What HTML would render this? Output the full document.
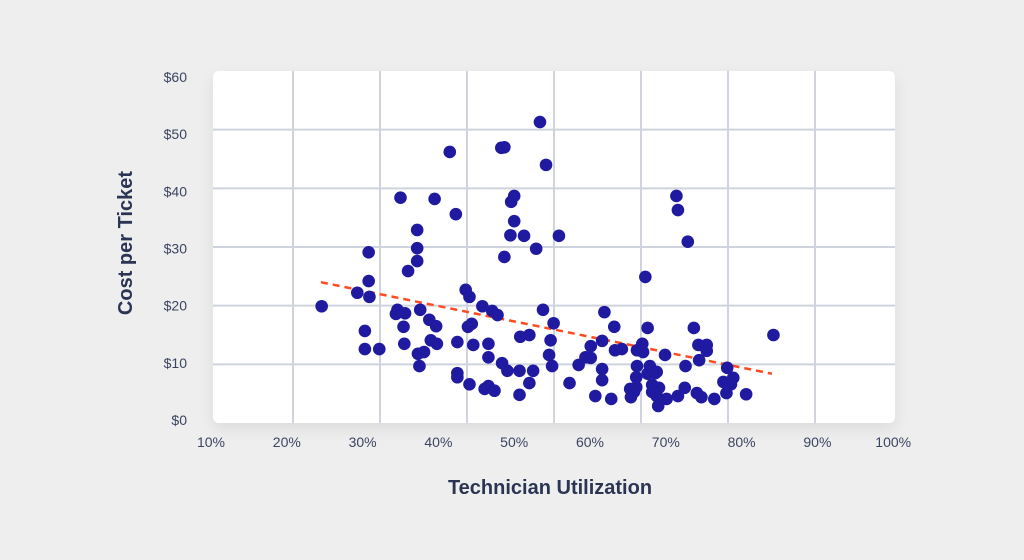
<!DOCTYPE html>
<html><head><meta charset="utf-8"><style>
html,body{margin:0;padding:0;background:#eeeeee;}
body{width:1024px;height:555px;overflow:hidden;font-family:"Liberation Sans",sans-serif;}
</style></head><body>
<svg id="chart" width="1024" height="555" viewBox="0 0 1024 555">
<defs><filter id="sh" x="-10%" y="-10%" width="120%" height="130%"><feDropShadow dx="0" dy="6" stdDeviation="7" flood-color="#000" flood-opacity="0.08"/></filter></defs>
<rect x="0" y="0" width="1024" height="555" fill="#eeeeee"/>
<rect x="213" y="71" width="682" height="352" rx="6" fill="#ffffff" filter="url(#sh)"/>
<g id="grid"></g>
<g id="yticks"></g>
<g id="xticks"></g>
<g id="trend"></g>
<g id="points"></g>
<text x="550" y="494" text-anchor="middle" font-size="20" font-weight="bold" fill="#2b3553">Technician Utilization</text>
<text transform="translate(132,243) rotate(-90)" text-anchor="middle" font-size="20" font-weight="bold" fill="#2b3553">Cost per Ticket</text>
</svg>
<script>
const utilization=[24.6,29.3,30.8,30.8,30.9,30.3,30.3,32.2,35.0,34.6,34.4,35.6,35.4,35.5,36.0,37.2,37.2,37.2,37.6,37.3,37.5,38.1,38.8,39.0,39.7,39.8,39.5,41.5,42.3,42.5,42.5,42.5,43.6,44.1,43.9,44.4,44.6,44.1,45.8,46.6,46.6,47.1,47.8,46.1,46.6,47.4,48.3,48.7,48.7,48.4,49.1,49.6,50.0,50.0,49.5,51.3,50.7,50.8,52.0,50.7,52.0,52.5,52.9,53.4,53.8,54.2,55.9,55.2,54.8,54.6,55.0,57.3,58.5,59.4,60.1,60.1,61.9,61.6,61.6,61.6,60.7,63.2,62.8,63.3,64.2,65.3,65.8,65.4,66.1,66.2,66.9,66.2,66.1,67.3,67.6,67.6,68.2,68.2,68.8,69.1,68.8,70.1,69.0,69.9,71.6,72.6,73.7,74.3,75.4,75.4,74.4,74.1,76.4,78.1,78.9,78.6,77.6,78.0,80.6,84.2,71.4,71.6,72.9,72.5,74.7,68.6,67.0,67.9];
const cost=[19.9,22.2,29.1,24.2,21.5,15.7,12.6,12.6,38.4,19.3,18.6,18.7,16.4,13.5,25.9,27.6,29.8,32.9,19.3,11.8,9.7,12.1,17.6,14.1,16.5,13.5,38.2,46.2,35.6,8.5,7.8,13.8,22.7,21.5,16.4,16.9,13.3,6.6,19.9,13.5,11.2,19.1,18.4,5.8,6.3,5.5,46.9,47.0,28.3,10.2,8.9,37.7,38.7,34.4,32.0,31.9,8.9,14.7,15.0,4.8,6.8,8.9,29.7,51.3,19.3,44.0,31.9,17.0,14.1,11.6,9.7,6.8,9.9,11.2,11.1,13.1,18.9,14.0,9.2,7.3,4.6,16.4,4.1,12.4,12.6,5.8,5.3,4.4,6.1,12.4,13.5,9.7,7.8,24.9,16.2,8.4,6.5,5.3,4.6,6.0,8.7,4.1,2.9,11.6,4.6,9.7,16.2,13.3,13.3,12.3,10.7,5.1,4.1,9.4,7.7,6.6,7.0,5.1,4.9,15.0,38.7,36.3,30.9,6.0,4.4,8.5,12.1,9.7];
const xTickLabels=["10%","20%","30%","40%","50%","60%","70%","80%","90%","100%"];
const xTickValues=[10,20,30,40,50,60,70,80,90,100];
const yTickLabels=["$0","$10","$20","$30","$40","$50","$60"];
const yTickValues=[0,10,20,30,40,50,60];
const trendX=[24.5,84.0];
const trendY=[24.0,8.4];

const NS="http://www.w3.org/2000/svg";
function xs(p){return 211+(p-10)*75.8/10;}
function ys(v){return 423-(v)*352/60;}
function ylab(v){return 420-(v)*343/60;}
function mk(t,a,parent){const e=document.createElementNS(NS,t);for(const k in a)e.setAttribute(k,a[k]);parent.appendChild(e);return e;}
const grid=document.getElementById('grid');
for(let i=0;i<7;i++){
  const gx=293+i*87;
  const l=mk('line',{x1:gx,x2:gx,y1:71,y2:423,stroke:'#cfd3dd','stroke-width':2},grid);
  
  
}
yTickValues.forEach((v,i)=>{
  if(v>0&&v<60){
    const l=mk('line',{x1:213,x2:895,y1:ys(v),y2:ys(v),stroke:'#cfd3dd','stroke-width':2},grid);
    
    
  }
  const t=mk('text',{x:187,y:ylab(v)+5,'text-anchor':'end','font-size':14,fill:'#3b4460'},document.getElementById('yticks'));
  t.textContent=yTickLabels[i];
  
  
});
xTickValues.forEach((v,i)=>{
  const t=mk('text',{x:xs(v),y:447,'text-anchor':'middle','font-size':14,fill:'#3b4460'},document.getElementById('xticks'));
  t.textContent=xTickLabels[i];
  
  
});
const pts=document.getElementById('points');
for(let i=0;i<utilization.length;i++){
  const c=mk('circle',{cx:xs(utilization[i]),cy:ys(cost[i]),r:6.3,fill:'#1f1a9f'},pts);
  
  
}
const tl=mk('line',{x1:xs(trendX[0]),y1:ys(trendY[0]),x2:xs(trendX[1]),y2:ys(trendY[1]),stroke:'#ff4b1f','stroke-width':2.5,'stroke-dasharray':'7 5'},document.getElementById('trend'));


</script>
</body></html>
